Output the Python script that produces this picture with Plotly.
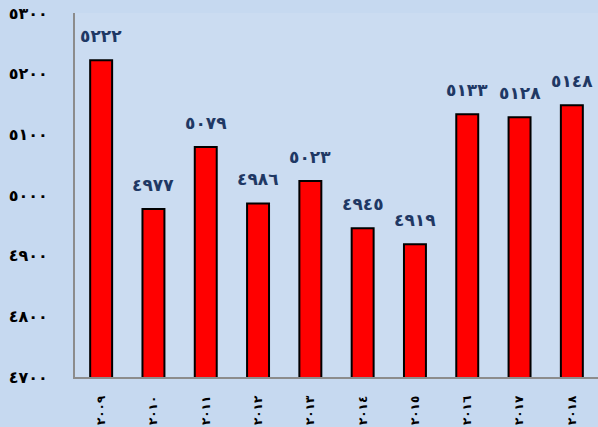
import plotly.graph_objects as go

years = ["٢٠٠٩", "٢٠١٠", "٢٠١١", "٢٠١٢", "٢٠١٣", "٢٠١٤", "٢٠١٥", "٢٠١٦", "٢٠١٧", "٢٠١٨"]
values = [5222, 4977, 5079, 4986, 5023, 4945, 4919, 5133, 5128, 5148]
value_labels = ["٥٢٢٢", "٤٩٧٧", "٥٠٧٩", "٤٩٨٦", "٥٠٢٣", "٤٩٤٥", "٤٩١٩", "٥١٣٣", "٥١٢٨", "٥١٤٨"]
y_ticks = [4700, 4800, 4900, 5000, 5100, 5200, 5300]
y_tick_labels = ["٤٧٠٠", "٤٨٠٠", "٤٩٠٠", "٥٠٠٠", "٥١٠٠", "٥٢٠٠", "٥٣٠٠"]

fig = go.Figure()
fig.add_trace(go.Bar(
    x=years, y=values,
    marker=dict(color="#FF0000", line=dict(color="#000000", width=2)),
    width=0.42,
))

for x, v, t in zip(years, values, value_labels):
    fig.add_annotation(x=x, y=v, text=t, showarrow=False, yshift=24,
                       font=dict(family="DejaVu Sans", size=17, color="#1F3864", weight="bold"),
                       yanchor="middle", xanchor="center")

fig.update_layout(
    width=598, height=427,
    margin=dict(l=75, r=0, t=13, b=50),
    paper_bgcolor="#C6D9F0",
    plot_bgcolor="#CBDCF1",
    showlegend=False,
    font=dict(family="DejaVu Sans", color="#000000"),
)
fig.update_yaxes(
    range=[4700, 5300], tickvals=y_ticks, ticktext=y_tick_labels,
    showgrid=False, zeroline=False, automargin=False,
    showline=True, linecolor="#8C8C8C", linewidth=2,
    tickfont=dict(family="DejaVu Sans", size=16, color="#000000", weight="bold"),
    ticks="", ticklabelstandoff=22,
)
fig.update_xaxes(
    showgrid=False, showline=True, linecolor="#8C8C8C", linewidth=2,
    automargin=False,
    tickangle=-90, tickfont=dict(family="DejaVu Sans", size=12, color="#000000", weight="bold"),
    ticks="", ticklabelstandoff=12,
)

fig.write_html("out.html", config={"displayModeBar": False},
               post_script="document.body.style.margin='0';document.body.style.overflow='hidden';")
